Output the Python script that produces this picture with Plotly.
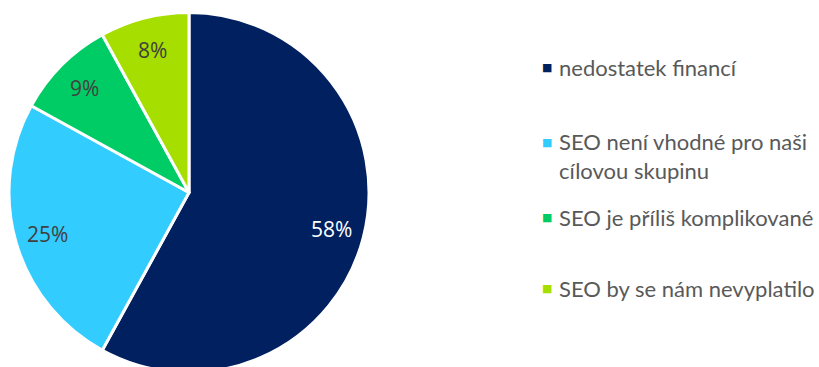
import math
import plotly.graph_objects as go

# Survey: reasons for not using SEO
reasons = [
    "nedostatek financí",
    "SEO není vhodné pro naši<br>cílovou skupinu",
    "SEO je příliš komplikované",
    "SEO by se nám nevyplatilo",
]
shares = [58, 25, 9, 8]
colors = ["#002060", "#33CCFF", "#00CC66", "#A6DE00"]
label_colors = ["#FFFFFF", "#404040", "#404040", "#404040"]

W, H = 819, 373
TOP = 12
PIE_X0, PIE_X1 = 9, 369          # horizontal extent of the pie domain (px)
LABEL_R = 0.82                   # radial position of the % labels (fraction of radius)


def paper_y(ypx):
    return (H - ypx) / (H - TOP)


fig = go.Figure(
    go.Pie(
        labels=reasons,
        values=shares,
        sort=False,
        direction="clockwise",
        rotation=0,
        marker=dict(colors=colors, line=dict(color="#FFFFFF", width=3)),
        textinfo="none",
        hoverinfo="label+percent",
        showlegend=False,
        domain=dict(x=[PIE_X0 / W, PIE_X1 / W], y=[0, 1]),
    )
)

# Percentage labels placed along each slice's middle angle
cx = (PIE_X0 + PIE_X1) / 2
radius = min(PIE_X1 - PIE_X0, H - TOP) / 2
cy = TOP + (H - TOP) / 2
total = sum(shares)
annotations = []
cum = 0
for val, tcol in zip(shares, label_colors):
    mid = (cum + val / 2) / total * 2 * math.pi
    cum += val
    lx = cx + LABEL_R * radius * math.sin(mid)
    ly = cy - LABEL_R * radius * math.cos(mid)
    annotations.append(dict(
        x=lx / W, y=paper_y(ly), xref="paper", yref="paper",
        text=f"{val}%", showarrow=False, xanchor="center", yanchor="middle",
        font=dict(family="Open Sans", size=21, color=tcol),
    ))

# Legend: coloured square + (possibly wrapped) text
FONT_SIZE = 22
legend_y = [67.5, 142, 217.5, 288.5]
for name, col, ypx in zip(reasons, colors, legend_y):
    annotations.append(dict(
        x=547 / W, y=paper_y(ypx), xref="paper", yref="paper",
        text="■", showarrow=False, xanchor="center", yanchor="middle",
        font=dict(family="DejaVu Sans", size=11, color=col),
    ))
    n_lines = name.count("<br>") + 1
    text_y = ypx + (n_lines - 1) * FONT_SIZE * 1.3 / 2
    annotations.append(dict(
        x=557 / W, y=paper_y(text_y), xref="paper", yref="paper",
        text=name, showarrow=False, xanchor="left", yanchor="middle",
        align="left",
        font=dict(family="Lato", size=FONT_SIZE, color="#595959"),
    ))

fig.update_layout(
    width=W, height=H,
    margin=dict(l=0, r=0, t=TOP, b=0),
    paper_bgcolor="#FFFFFF",
    plot_bgcolor="#FFFFFF",
    annotations=annotations,
)

fig.write_html(
    "out.html",
    post_script="document.documentElement.style.overflow='hidden';document.body.style.overflow='hidden';",
)
